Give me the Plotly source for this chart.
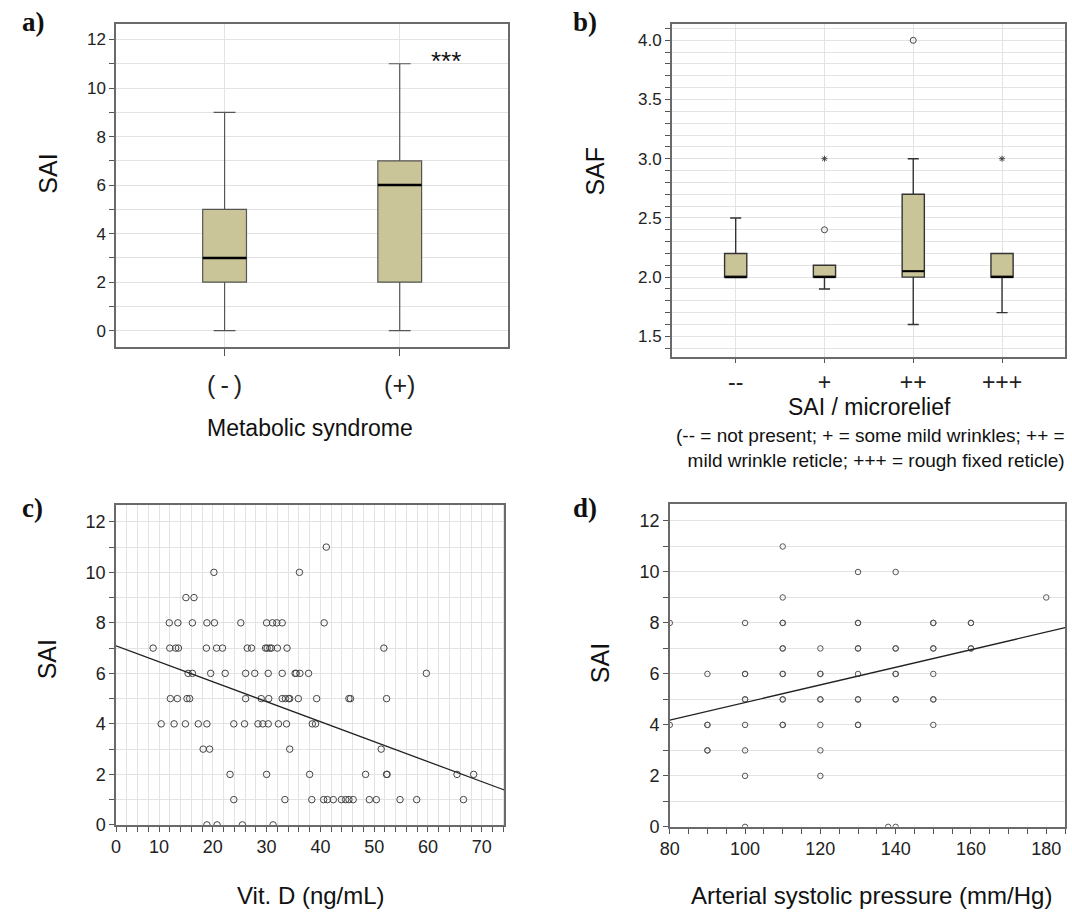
import plotly.graph_objects as go

W, H = 1072, 915
FONT = "Liberation Sans, Arial, Helvetica, sans-serif"
SERIF = "Liberation Serif, Times New Roman, serif"

# ---------------- Panel a: SAI by metabolic syndrome ----------------
ms_groups = ["(\u2009-\u2009)", "(+)"]
ms_q1 = [2, 2]
ms_median = [3, 6]
ms_q3 = [5, 7]
ms_lower = [0, 0]
ms_upper = [9, 11]

# ---------------- Panel b: SAF by SAI / microrelief ----------------
mr_groups = ["--", "+", "++", "+++"]
mr_q1 = [2.0, 2.0, 2.0, 2.0]
mr_median = [2.0, 2.0, 2.05, 2.0]
mr_q3 = [2.2, 2.1, 2.7, 2.2]
mr_lower = [2.0, 1.9, 1.6, 1.7]
mr_upper = [2.5, 2.1, 3.0, 2.2]
mr_outlier_groups = ["+", "++"]
mr_outlier_values = [2.4, 4.0]
mr_extreme_groups = ["+", "+++"]
mr_extreme_values = [3.0, 3.0]

# ---------------- Panel c: SAI vs Vit. D ----------------
vitd_x = [41.1,
          20.2, 36.1,
          15.0, 16.5,
          11.9, 13.5, 16.2, 18.9, 20.3, 25.2, 30.0, 31.1, 31.9, 32.9, 40.7,
          8.9, 12.0, 13.1, 13.6, 18.8, 20.7, 21.8, 26.4, 27.2, 29.8, 30.1, 30.6, 30.9, 32.0, 33.8, 51.8,
          15.4, 16.2, 19.6, 22.3, 26.1, 27.8, 30.3, 32.9, 35.3, 35.5, 36.2, 37.8, 59.7,
          12.1, 13.4, 15.2, 15.7, 26.1, 29.0, 30.4, 32.9, 33.5, 34.1, 34.3, 35.9, 39.3, 45.3, 45.6, 52.3,
          10.4, 12.8, 14.9, 17.3, 18.9, 23.9, 25.9, 28.4, 29.3, 30.3, 32.2, 33.7, 38.5, 39.1,
          18.2, 19.4, 34.3, 51.3,
          23.2, 30.0, 38.0, 48.4, 52.3, 52.4, 65.4, 68.5,
          23.9, 33.4, 38.4, 40.6, 41.3, 42.4, 43.9, 44.7, 45.3, 46.1, 49.1, 50.4, 54.8, 57.9, 66.6,
          18.9, 20.8, 25.5, 31.2]
vitd_sai = [11,
            10, 10,
            9, 9,
            8, 8, 8, 8, 8, 8, 8, 8, 8, 8, 8,
            7, 7, 7, 7, 7, 7, 7, 7, 7, 7, 7, 7, 7, 7, 7, 7,
            6, 6, 6, 6, 6, 6, 6, 6, 6, 6, 6, 6, 6,
            5, 5, 5, 5, 5, 5, 5, 5, 5, 5, 5, 5, 5, 5, 5, 5,
            4, 4, 4, 4, 4, 4, 4, 4, 4, 4, 4, 4, 4, 4,
            3, 3, 3, 3,
            2, 2, 2, 2, 2, 2, 2, 2,
            1, 1, 1, 1, 1, 1, 1, 1, 1, 1, 1, 1, 1, 1, 1,
            0, 0, 0, 0]
vitd_fit_intercept = 7.25
vitd_fit_slope = -0.0791
vitd_tick_values = [2, 10, 20, 30, 40, 50, 60, 70]
vitd_tick_labels = ["0", "10", "20", "30", "40", "50", "60", "70"]

# ---------------- Panel d: SAI vs arterial systolic pressure ----------------
asp_x = [80, 80,
         90, 90, 90, 90, 90,
         100, 100, 100, 100, 100, 100, 100, 100, 100,
         110, 110, 110, 110, 110, 110, 110, 110, 110, 110, 110, 110,
         120, 120, 120, 120, 120, 120, 120, 120,
         130, 130, 130, 130, 130, 130, 130, 130, 130, 130,
         140, 140, 140, 140, 140, 140, 140, 138, 140,
         150, 150, 150, 150, 150, 150, 150, 150,
         160, 160, 160, 160,
         180]
asp_sai = [8, 4,
           6, 4, 4, 3, 3,
           8, 6, 6, 5, 5, 4, 3, 2, 0,
           11, 9, 8, 8, 7, 7, 6, 6, 5, 5, 4, 4,
           7, 6, 6, 5, 5, 4, 3, 2,
           10, 8, 8, 7, 7, 6, 5, 5, 4, 4,
           10, 7, 7, 6, 6, 5, 5, 0, 0,
           8, 8, 7, 7, 6, 5, 5, 4,
           8, 8, 7, 7,
           9]
asp_fit_intercept = 1.43
asp_fit_slope = 0.0345

SAI_ticks = [0, 2, 4, 6, 8, 10, 12]

# ---------------- helpers ----------------
def px(x):
    return x / W

def py(y):
    return 1 - y / H

GRID = "#e3e3e3"
FRAME = "#6a6a6a"

def ax(**kw):
    base = dict(showline=True, mirror=True, linecolor=FRAME, linewidth=1.5,
                zeroline=False, ticks="outside", ticklen=5, tickcolor="#555",
                tickwidth=1, showgrid=True, gridcolor=GRID, gridwidth=1,
                tickfont=dict(family=FONT, size=17, color="#222"))
    base.update(kw)
    return base

BOX_FILL = "#cac598"
BOX_W = 0.25

fig = go.Figure()

# Panel a boxes
for i, g in enumerate(ms_groups):
    fig.add_trace(go.Box(x=[i], q1=[ms_q1[i]], median=[ms_median[i]], q3=[ms_q3[i]],
                         lowerfence=[ms_lower[i]], upperfence=[ms_upper[i]],
                         width=BOX_W, whiskerwidth=0.5, fillcolor=BOX_FILL,
                         line=dict(color="#555555", width=1.2), boxpoints=False,
                         xaxis="x", yaxis="y", name=g))
mx, my = [], []
for i in range(len(ms_groups)):
    mx += [i - BOX_W / 2, i + BOX_W / 2, None]
    my += [ms_median[i], ms_median[i], None]
fig.add_trace(go.Scatter(x=mx, y=my, mode="lines", line=dict(color="black", width=2.5),
                         xaxis="x", yaxis="y", hoverinfo="skip"))

# Panel b boxes
for i, g in enumerate(mr_groups):
    fig.add_trace(go.Box(x=[i], q1=[mr_q1[i]], median=[mr_median[i]], q3=[mr_q3[i]],
                         lowerfence=[mr_lower[i]], upperfence=[mr_upper[i]],
                         width=BOX_W, whiskerwidth=0.5, fillcolor=BOX_FILL,
                         line=dict(color="#333333", width=1.4), boxpoints=False,
                         xaxis="x2", yaxis="y2", name=g))
mx, my = [], []
for i in range(len(mr_groups)):
    mx += [i - BOX_W / 2, i + BOX_W / 2, None]
    my += [mr_median[i], mr_median[i], None]
fig.add_trace(go.Scatter(x=mx, y=my, mode="lines", line=dict(color="black", width=2),
                         xaxis="x2", yaxis="y2", hoverinfo="skip"))
fig.add_trace(go.Scatter(x=[mr_groups.index(g) for g in mr_outlier_groups], y=mr_outlier_values,
                         mode="markers",
                         marker=dict(symbol="circle-open", size=6, color="#444",
                                     line=dict(width=1)),
                         xaxis="x2", yaxis="y2"))
fig.add_trace(go.Scatter(x=[mr_groups.index(g) for g in mr_extreme_groups], y=mr_extreme_values,
                         mode="markers",
                         marker=dict(symbol="asterisk-open", size=5, color="#444",
                                     line=dict(width=1)),
                         xaxis="x2", yaxis="y2"))

# Panel c scatter
c_range = [2.0, 74.2]
fig.add_trace(go.Scatter(x=vitd_x, y=vitd_sai, mode="markers",
                         marker=dict(symbol="circle-open", size=6.5, color="#444",
                                     line=dict(width=1)),
                         xaxis="x3", yaxis="y3"))
fig.add_trace(go.Scatter(x=c_range,
                         y=[vitd_fit_intercept + vitd_fit_slope * v for v in c_range],
                         mode="lines", line=dict(color="#222", width=1.3),
                         xaxis="x3", yaxis="y3"))

# Panel d scatter
d_range = [80, 185]
fig.add_trace(go.Scatter(x=asp_x, y=asp_sai, mode="markers",
                         marker=dict(symbol="circle-open", size=5.5, color="#555",
                                     line=dict(width=1)),
                         xaxis="x4", yaxis="y4"))
fig.add_trace(go.Scatter(x=d_range,
                         y=[asp_fit_intercept + asp_fit_slope * v for v in d_range],
                         mode="lines", line=dict(color="#222", width=1.3),
                         xaxis="x4", yaxis="y4"))

minor_sai = dict(dtick=1, tick0=0, ticks="outside", ticklen=5, tickcolor="#555",
                 showgrid=True, gridcolor=GRID)

fig.update_layout(
    width=W, height=H, margin=dict(l=0, r=0, t=0, b=0),
    paper_bgcolor="white", plot_bgcolor="white", showlegend=False,
    font=dict(family=FONT, color="#222"),
    # a
    xaxis=ax(domain=[px(107), px(503)], anchor="y", range=[-0.62, 1.62],
             tickvals=list(range(len(ms_groups))), ticktext=ms_groups, ticklen=7,
             tickfont=dict(family=FONT, size=25, color="#222"), ticklabelstandoff=8),
    yaxis=ax(domain=[py(351), py(24)], anchor="x", range=[-0.68, 12.65],
             tickvals=SAI_ticks, minor=minor_sai),
    # b
    xaxis2=ax(domain=[px(668), px(1065)], anchor="y2", range=[-0.72, 3.71],
              tickvals=list(range(len(mr_groups))), ticktext=mr_groups, ticklen=4,
              tickfont=dict(family=FONT, size=23, color="#222")),
    yaxis2=ax(domain=[py(361), py(24)], anchor="x2", range=[1.325, 4.14],
              tickvals=[1.5, 2.0, 2.5, 3.0, 3.5, 4.0], tickformat=".1f",
              minor=dict(dtick=0.1, tick0=0, ticks="outside", ticklen=5, tickcolor="#555",
                         showgrid=True, gridcolor=GRID)),
    # c
    xaxis3=ax(domain=[px(107), px(499)], anchor="y3", range=c_range,
              tickvals=vitd_tick_values, ticktext=vitd_tick_labels, ticklen=5,
              tickfont=dict(family=FONT, size=18, color="#222"),
              minor=dict(dtick=2, tick0=0, ticks="outside", ticklen=5, tickcolor="#555",
                         showgrid=True, gridcolor=GRID)),
    yaxis3=ax(domain=[py(834), py(511)], anchor="x3", range=[0, 12.65],
              tickvals=SAI_ticks, minor=minor_sai,
              tickfont=dict(family=FONT, size=18, color="#222")),
    # d
    xaxis4=ax(domain=[px(666), px(1065)], anchor="y4", range=d_range,
              tickvals=[80, 100, 120, 140, 160, 180], showgrid=False,
              tickfont=dict(family=FONT, size=18, color="#222"),
              minor=dict(dtick=5, tick0=0, ticks="outside", ticklen=5, tickcolor="#555",
                         showgrid=False)),
    yaxis4=ax(domain=[py(836), py(510)], anchor="x4", range=[0, 12.65],
              tickvals=SAI_ticks, minor=minor_sai,
              tickfont=dict(family=FONT, size=18, color="#222")),
)

def note(text, x, y, size, xanchor="center", yanchor="middle", angle=0, family=FONT,
         bold=False, align="center"):
    fig.add_annotation(text=("<b>%s</b>" % text) if bold else text,
                       x=px(x), y=py(y), xref="paper", yref="paper",
                       xanchor=xanchor, yanchor=yanchor, textangle=angle,
                       showarrow=False, align=align,
                       font=dict(family=family, size=size, color="#111"))

note("a)", 10, 22, 27, xanchor="left", family=SERIF, bold=True)
note("b)", 566, 22, 27, xanchor="left", family=SERIF, bold=True)
note("c)", 10, 514, 27, xanchor="left", family=SERIF, bold=True)
note("d)", 566, 514, 27, xanchor="left", family=SERIF, bold=True)

note("***", 440, 62, 26)
note("SAI", 38, 176, 25, angle=-90)
note("SAF", 591, 173, 25, angle=-90)
note("SAI", 37, 667, 25, angle=-90)
note("SAI", 595, 670, 25, angle=-90)

note("Metabolic syndrome", 303, 433, 23)
note("SAI / microrelief", 868, 412, 23)
note("(-- = not present; + = some mild wrinkles; ++ =<br>mild wrinkle reticle; +++ = rough fixed reticle)",
     1067, 453, 19, xanchor="right", align="right")
note("Vit. D (ng/mL)", 304, 905, 24)
note("Arterial systolic pressure (mm/Hg)", 870, 905, 24)

fig.write_html("out.html")
